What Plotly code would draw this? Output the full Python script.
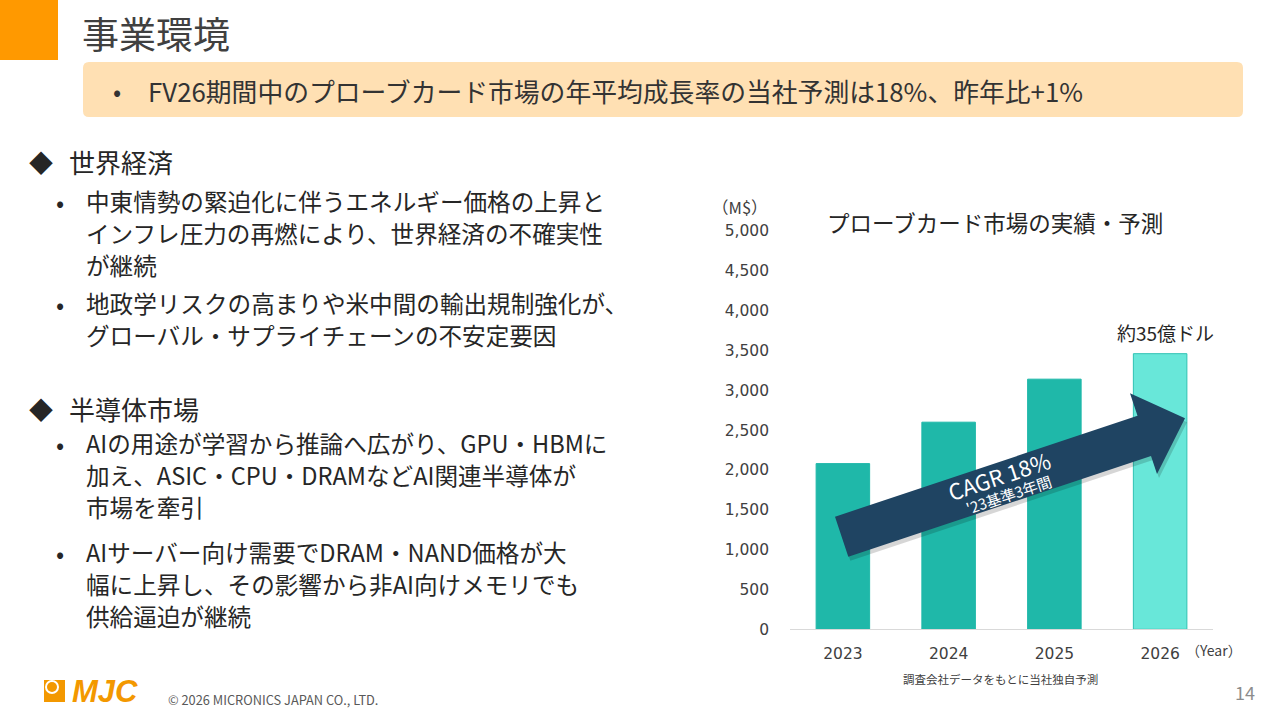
import plotly.graph_objects as go

W, H = 1280, 720
FONT = "Noto Sans CJK JP, Noto Sans, sans-serif"
NUMFONT = "DejaVu Sans, Noto Sans CJK JP, sans-serif"

# ---- data ----
years = ["2023", "2024", "2025", "2026"]
market_musd = [2080, 2600, 3140, 3460]
y_ticks = [0, 500, 1000, 1500, 2000, 2500, 3000, 3500, 4000, 4500, 5000]

page_title = "事業環境"
banner_text = "FV26期間中のプローブカード市場の年平均成長率の当社予測は18%、昨年比+1%"
chart_title = "プローブカード市場の実績・予測"
heading1 = "世界経済"
bullets1 = [
    ["中東情勢の緊迫化に伴うエネルギー価格の上昇と", "インフレ圧力の再燃により、世界経済の不確実性", "が継続"],
    ["地政学リスクの高まりや米中間の輸出規制強化が、", "グローバル・サプライチェーンの不安定要因"],
]
heading2 = "半導体市場"
bullets2 = [
    ["AIの用途が学習から推論へ広がり、GPU・HBMに", "加え、ASIC・CPU・DRAMなどAI関連半導体が", "市場を牽引"],
    ["AIサーバー向け需要でDRAM・NAND価格が大", "幅に上昇し、その影響から非AI向けメモリでも", "供給逼迫が継続"],
]
cagr_text = "CAGR 18%"
cagr_sub = "'23基準3年間"
last_label = "約35億ドル"
source_note = "調査会社データをもとに当社独自予測"
copyright_text = "© 2026 MICRONICS JAPAN CO., LTD."
page_no = "14"

# ---- styles ----
ORANGE = "#FF9900"
BAR = "#1FB8A9"
BAR_FC = "#68E7D9"
NAVY = "#1F4462"
TXT = "#404040"
bar_colors = [BAR, BAR, BAR, BAR_FC]
bar_lines = [BAR, BAR, BAR, "#2FC2B3"]


def px(x):
    return x / W


def py(y):
    return 1 - y / H


def note(text, x, y, size, color="#262626", anchor="left", family=FONT, angle=0):
    return dict(text=text, xref="paper", yref="paper", x=px(x), y=py(y),
                xanchor=anchor, yanchor="middle", showarrow=False, textangle=angle,
                font=dict(family=family, size=size, color=color))


fig = go.Figure()
fig.add_trace(go.Bar(
    x=years, y=market_musd,
    marker=dict(color=bar_colors, line=dict(color=bar_lines, width=1)),
    width=0.506, hoverinfo="skip", showlegend=False,
))

shapes = []
annotations = []

# header
shapes.append(dict(type="rect", xref="paper", yref="paper", x0=0, x1=px(58), y0=py(60), y1=py(0),
                   fillcolor=ORANGE, line=dict(width=0), layer="below"))
annotations.append(note(page_title, 80, 33, 37, TXT))

# banner (rounded rect)
bx0, bx1, by0, by1, r = 83, 1243, 62, 117, 6
path = (f"M {px(bx0 + r)},{py(by0)} L {px(bx1 - r)},{py(by0)} Q {px(bx1)},{py(by0)} {px(bx1)},{py(by0 + r)} "
        f"L {px(bx1)},{py(by1 - r)} Q {px(bx1)},{py(by1)} {px(bx1 - r)},{py(by1)} "
        f"L {px(bx0 + r)},{py(by1)} Q {px(bx0)},{py(by1)} {px(bx0)},{py(by1 - r)} "
        f"L {px(bx0)},{py(by0 + r)} Q {px(bx0)},{py(by0)} {px(bx0 + r)},{py(by0)} Z")
shapes.append(dict(type="path", xref="paper", yref="paper", path=path,
                   fillcolor="#FFE0B3", line=dict(width=0), layer="below"))
annotations.append(note("•", 117, 90, 24, "#333333", "center"))
annotations.append(note(banner_text, 146, 90, 25.8, "#333333"))


# left text
def add_section(heading, y_head, bullets, y_lines):
    annotations.append(note("◆", 41, y_head, 24, "#262626", "center"))
    annotations.append(note(heading, 67, y_head, 26))
    k = 0
    for b in bullets:
        annotations.append(note("•", 60, y_lines[k], 24, "#262626", "center"))
        for line in b:
            annotations.append(note(line, 84, y_lines[k], 23.6))
            k += 1


add_section(heading1, 162, bullets1, [201, 233, 265, 303, 335])
add_section(heading2, 408, bullets2, [443, 475, 507, 552, 584, 616])

# chart texts
annotations.append(note(chart_title, 995, 222, 22.5, "#262626", "center"))
annotations.append(note("（M$）", 740, 207, 16.5, TXT, "center"))
annotations.append(note("（Year）", 1214, 650, 14, TXT, "center"))
annotations.append(note(source_note, 1000, 679, 11.5, TXT, "center"))
annotations.append(dict(text=last_label, x=len(years) - 1, y=market_musd[-1], xref="x", yref="y",
                        xanchor="center", yanchor="bottom", yshift=6, xshift=5, showarrow=False,
                        font=dict(family=FONT, size=19, color="#262626")))

# CAGR arrow (decoration, pixel geometry)
arrow_pts = [(835, 516.7), (1137.5, 415.8), (1130, 393.3), (1185, 418.3),
             (1157, 474), (1151, 456), (848.3, 556.7)]


def poly(pts, dx=0, dy=0):
    return "M " + " L ".join(f"{px(x + dx)},{py(y + dy)}" for x, y in pts) + " Z"


shapes.append(dict(type="path", xref="paper", yref="paper", path=poly(arrow_pts, 2, 4),
                   fillcolor="rgba(0,0,0,0.16)", line=dict(width=0), layer="above"))
shapes.append(dict(type="path", xref="paper", yref="paper", path=poly(arrow_pts),
                   fillcolor=NAVY, line=dict(width=0), layer="above"))
annotations.append(note(cagr_text, 999, 475, 22, "white", "center", angle=-18.4))
annotations.append(note(cagr_sub, 1008, 494, 15, "white", "center", angle=-18.4))

# footer
shapes.append(dict(type="rect", xref="paper", yref="paper", x0=px(44), x1=px(65), y0=py(702), y1=py(680),
                   fillcolor="#F39800", line=dict(width=0)))
shapes.append(dict(type="circle", xref="paper", yref="paper", x0=px(45), x1=px(59), y0=py(694), y1=py(680),
                   fillcolor="white", line=dict(width=0)))
shapes.append(dict(type="circle", xref="paper", yref="paper", x0=px(47), x1=px(57), y0=py(692), y1=py(682),
                   fillcolor="#F39800", line=dict(width=0)))
annotations.append(note("<b><i>MJC</i></b>", 70, 691, 31, "#F39800",
                        family="Liberation Sans, Arial, sans-serif"))
annotations.append(note(copyright_text, 166, 699, 12.8, "#595959"))
annotations.append(note(page_no, 1257, 692, 18, "#8C8C8C", "right"))

fig.update_layout(
    template="none",
    width=W, height=H,
    margin=dict(l=0, r=0, t=0, b=0, pad=0, autoexpand=False),
    paper_bgcolor="white", plot_bgcolor="white",
    shapes=shapes, annotations=annotations,
    bargap=0.494,
    xaxis=dict(type="category", categoryorder="array", categoryarray=years,
               range=[-0.5, len(years) - 0.5], autorange=False,
               domain=[px(790), px(1213)], showgrid=False, showline=True,
               linecolor="#D9D9D9", linewidth=1, ticks="", ticklabelstandoff=10, automargin=False,
               tickfont=dict(family=NUMFONT, size=15.5, color=TXT), fixedrange=True),
    yaxis=dict(domain=[py(629.3), py(231)], range=[0, 5000], autorange=False,
               tickvals=y_ticks, tickformat=",",
               showgrid=False, zeroline=False, showline=False, ticks="", ticklabelstandoff=20,
               automargin=False,
               tickfont=dict(family=NUMFONT, size=15.5, color=TXT), fixedrange=True),
    showlegend=False,
)

fig.write_html("out.html", config={"displayModeBar": False, "staticPlot": True},
               post_script="document.body.style.margin='0';")
